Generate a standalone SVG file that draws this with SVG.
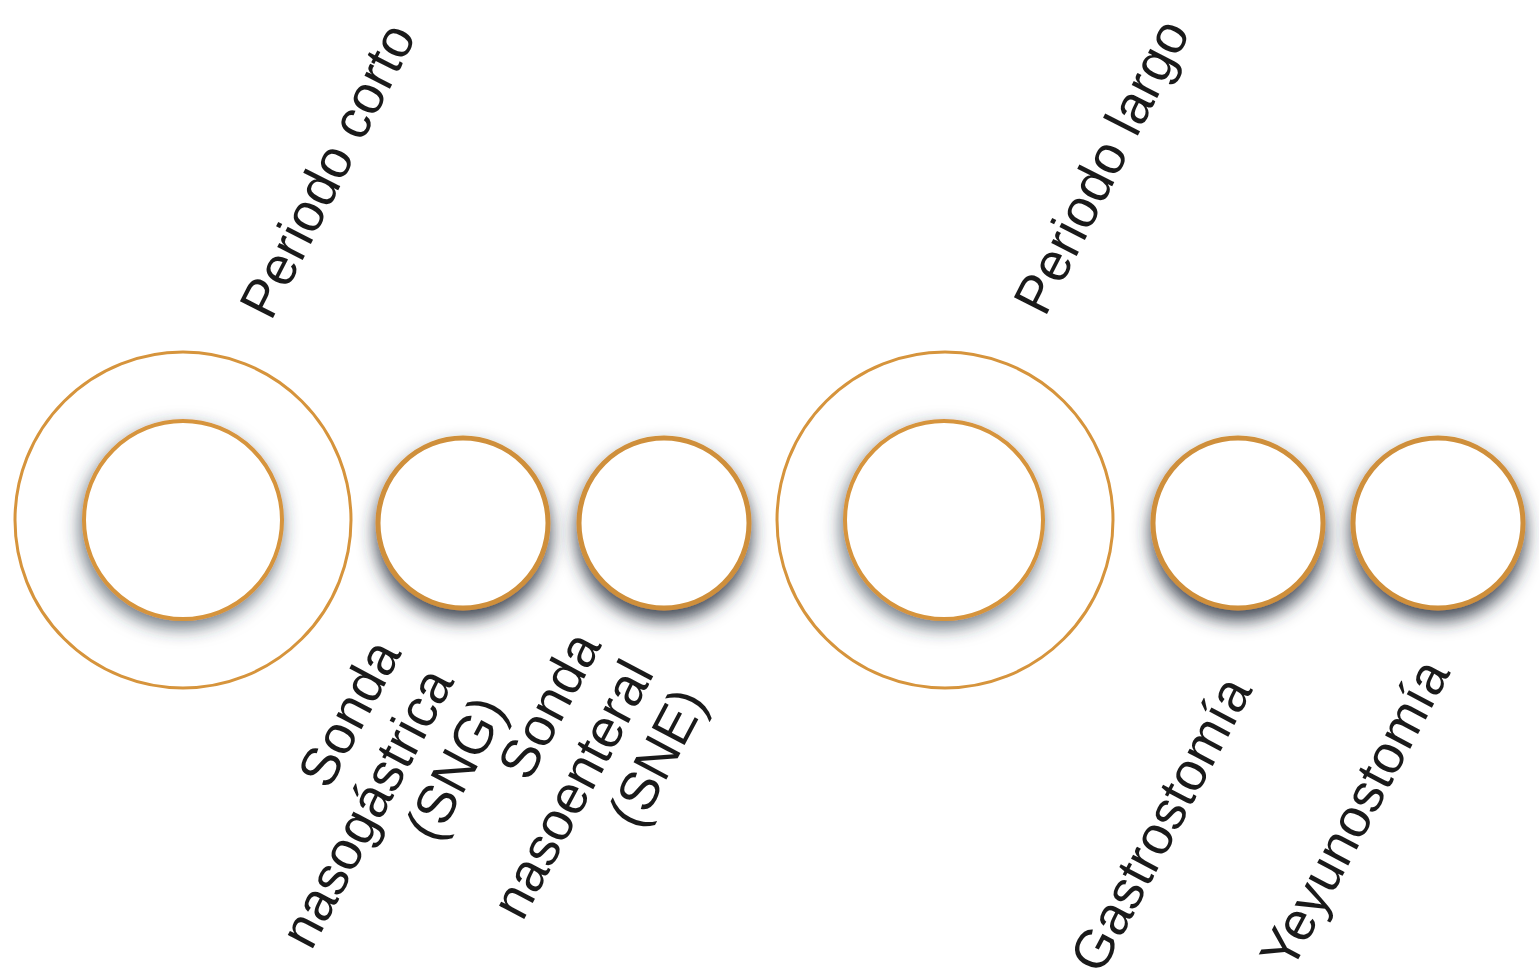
<svg xmlns="http://www.w3.org/2000/svg" width="1539" height="979" viewBox="0 0 1539 979">
<defs>
<filter id="sh" x="-30%" y="-30%" width="160%" height="170%">
<feDropShadow dx="0" dy="10" stdDeviation="9" flood-color="#26323e" flood-opacity="0.9"/>
</filter>
<filter id="shi" x="-30%" y="-30%" width="160%" height="170%">
<feDropShadow dx="-2" dy="7" stdDeviation="9" flood-color="#2c3844" flood-opacity="0.7"/>
</filter>
</defs>
<style>
.outer{fill:none;stroke:#d6943c;stroke-width:3}
.inner{fill:#fff;stroke:#d6943c;stroke-width:4}
.small{fill:#fff;stroke:#cf8f3a;stroke-width:5}
text{font-family:"Liberation Sans",Arial,sans-serif;font-size:54px;fill:#1a1a1a}
.end{text-anchor:end}
</style>
<rect width="1539" height="979" fill="#fff"/>
<g id="periodo-corto">
<circle class="outer" cx="183" cy="520" r="168"/>
<circle class="inner" cx="183" cy="520" r="99" filter="url(#shi)"/>
<text transform="translate(271,322) rotate(-63)">Periodo corto</text>
</g>
<g id="sng">
<circle class="small" cx="463" cy="523" r="85" filter="url(#sh)"/>
<text class="end" transform="translate(402,653) rotate(-62)"><tspan x="0" y="0">Sonda</tspan><tspan x="0" y="60">nasogástrica</tspan><tspan x="0" y="120">(SNG)</tspan></text>
</g>
<g id="sne">
<circle class="small" cx="664" cy="523" r="85" filter="url(#sh)"/>
<text class="end" transform="translate(602,645) rotate(-62)"><tspan x="0" y="0">Sonda</tspan><tspan x="0" y="60">nasoenteral</tspan><tspan x="0" y="120">(SNE)</tspan></text>
</g>
<g id="periodo-largo">
<circle class="outer" cx="945" cy="520" r="168"/>
<circle class="inner" cx="944" cy="520" r="99" filter="url(#shi)"/>
<text transform="translate(1045,318) rotate(-63)">Periodo largo</text>
</g>
<g id="gastrostomia">
<circle class="small" cx="1238" cy="523" r="85" filter="url(#sh)"/>
<text transform="translate(1101,976) rotate(-62)">Gastrostomía</text>
</g>
<g id="yeyunostomia">
<circle class="small" cx="1438" cy="523" r="85" filter="url(#sh)"/>
<text transform="translate(1291,973) rotate(-62)">Yeyunostomía</text>
</g>
</svg>
